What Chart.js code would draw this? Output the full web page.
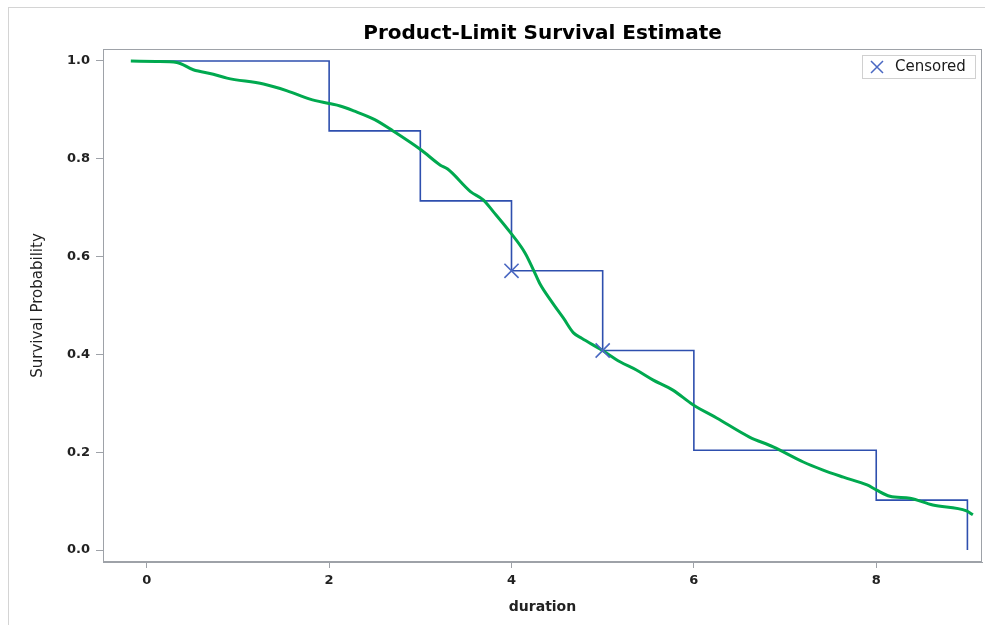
<!DOCTYPE html>
<html>
<head>
<meta charset="utf-8">
<script src="https://cdn.jsdelivr.net/npm/chart.js@4"></script>
<style>
  html, body { margin: 0; padding: 0; background: #fff; overflow: hidden; }
  #wrap { position: relative; width: 985px; height: 625px; overflow: hidden; }
  #frame { position: absolute; left: 8px; top: 7px; width: 1000px; height: 640px; border: 1px solid #d4d4d4; box-sizing: border-box; }
  canvas { position: absolute; left: 0; top: 0; }
</style>
</head>
<body>
<div id="wrap">
  <div id="frame"></div>
  <canvas id="chart" width="985" height="625"></canvas>
</div>
<script>
// ── Data ──────────────────────────────────────────────
const stepTimes   = [0, 2, 3, 4, 5, 6, 8, 9];
const stepSurv    = [1.0, 0.857, 0.714, 0.571, 0.408, 0.204, 0.102, 0.0];
const censorTimes = [4, 5];
const censorSurv  = [0.571, 0.408];

const smoothTimes = [-0.175, 0.1, 0.33, 0.51, 0.73, 0.88, 1.28, 1.54, 1.79, 2.0, 2.12, 2.27, 2.5, 2.7,
                     3.01, 3.22, 3.3, 3.55, 3.69, 3.8, 3.98, 4.15, 4.24, 4.31, 4.44, 4.57, 4.68, 4.77,
                     4.99, 5.19, 5.37, 5.55, 5.77, 5.99, 6.25, 6.61, 6.87, 7.2, 7.41, 7.64, 7.9, 8.0,
                     8.15, 8.37, 8.62, 8.99, 9.06];
const smoothSurv  = [1.0, 0.999, 0.997, 0.982, 0.973, 0.965, 0.953, 0.939, 0.922, 0.913, 0.908, 0.898, 0.880, 0.857,
                     0.818, 0.787, 0.779, 0.733, 0.716, 0.692, 0.651, 0.607, 0.573, 0.545, 0.508, 0.474, 0.444, 0.433,
                     0.409, 0.385, 0.368, 0.348, 0.327, 0.297, 0.270, 0.231, 0.211, 0.180, 0.164, 0.149, 0.133, 0.123,
                     0.110, 0.106, 0.092, 0.080, 0.072];

const xTicks = [0, 2, 4, 6, 8];
const yTicks = [0.0, 0.2, 0.4, 0.6, 0.8, 1.0];

const AXIS  = "#9ea2a8";
const FONT  = "'DejaVu Sans', sans-serif";
const BLUE  = "#2e4fae";
const XMARK = "#4a68c2";

const pts = (xs, ys) => xs.map((x, i) => ({ x, y: ys[i] }));

// ── Plot frame + inset legend ─────────────────────────
const framePlugin = {
  id: "frame",
  afterDraw(chart) {
    const { ctx, chartArea: a } = chart;
    ctx.save();
    ctx.strokeStyle = AXIS;
    ctx.lineWidth = 1;
    ctx.strokeRect(a.left + 0.5, a.top + 0.5, a.right - a.left - 1, a.bottom - a.top - 1);

    // legend box, top right inside the plot
    const w = 113, h = 23;
    const lx = Math.round(a.right) - 7 - w, ly = Math.round(a.top) + 6;
    ctx.strokeStyle = "#d0d0d0";
    ctx.strokeRect(lx + 0.5, ly + 0.5, w, h);
    const cx = lx + 15, cy = ly + h / 2 + 0.5, r = 6;
    ctx.strokeStyle = XMARK;
    ctx.lineWidth = 1.5;
    ctx.beginPath();
    ctx.moveTo(cx - r, cy - r); ctx.lineTo(cx + r, cy + r);
    ctx.moveTo(cx + r, cy - r); ctx.lineTo(cx - r, cy + r);
    ctx.stroke();
    ctx.fillStyle = "#1a1a1a";
    ctx.font = "15px " + FONT;
    ctx.textBaseline = "middle";
    ctx.fillText("Censored", lx + 33, cy);
    ctx.restore();
  }
};

new Chart(document.getElementById("chart"), {
  type: "scatter",
  data: {
    datasets: [
      {
        label: "Survival",
        data: pts(stepTimes, stepSurv),
        showLine: true,
        stepped: true,
        borderColor: BLUE,
        borderWidth: 1.6,
        pointRadius: 0,
        order: 2
      },
      {
        label: "Smooth",
        data: pts(smoothTimes, smoothSurv),
        showLine: true,
        borderColor: "#00a94f",
        borderWidth: 3,
        cubicInterpolationMode: "monotone",
        pointRadius: 0,
        order: 1
      },
      {
        label: "Censored",
        data: pts(censorTimes, censorSurv),
        showLine: false,
        pointStyle: "crossRot",
        pointRadius: 10,
        borderColor: XMARK,
        backgroundColor: XMARK,
        pointBorderWidth: 1.6,
        order: 0
      }
    ]
  },
  options: {
    responsive: false,
    animation: false,
    layout: { autoPadding: false, padding: { left: 8, top: 10, right: 3, bottom: 0 } },
    plugins: {
      title: {
        display: true,
        fullSize: false,
        text: "Product-Limit Survival Estimate",
        color: "#000",
        font: { family: FONT, size: 20, weight: "bold" },
        padding: { top: 12, bottom: 3 }
      },
      legend: { display: false },
      tooltip: { enabled: false }
    },
    scales: {
      x: {
        type: "linear",
        min: -0.48,
        max: 9.16,
        afterFit: s => { s.height = 63; s.paddingLeft = 0; s.paddingRight = 0; },
        afterBuildTicks: s => { s.ticks = xTicks.map(v => ({ value: v })); },
        grid: { drawOnChartArea: false, drawTicks: true, tickLength: 6, color: AXIS, tickColor: AXIS },
        border: { color: AXIS },
        ticks: { color: "#222", padding: 5, font: { family: FONT, size: 13, weight: "bold" } },
        title: { display: true, text: "duration", color: "#222",
                 font: { family: FONT, size: 14, weight: "bold" }, padding: { top: 0, bottom: 9 } }
      },
      y: {
        type: "linear",
        min: -0.0245,
        max: 1.0245,
        afterFit: s => { s.width = 95; },
        afterBuildTicks: s => { s.ticks = yTicks.map(v => ({ value: v })); },
        grid: { drawOnChartArea: false, drawTicks: true, tickLength: 7, color: AXIS, tickColor: AXIS },
        border: { color: AXIS },
        ticks: { color: "#222", padding: 6, callback: v => v.toFixed(1),
                 font: { family: FONT, size: 13, weight: "bold" } },
        title: { display: true, text: "Survival Probability", color: "#222",
                 font: { family: FONT, size: 15 }, padding: { top: 21, bottom: 0 } }
      }
    }
  },
  plugins: [framePlugin]
});
</script>
</body>
</html>
